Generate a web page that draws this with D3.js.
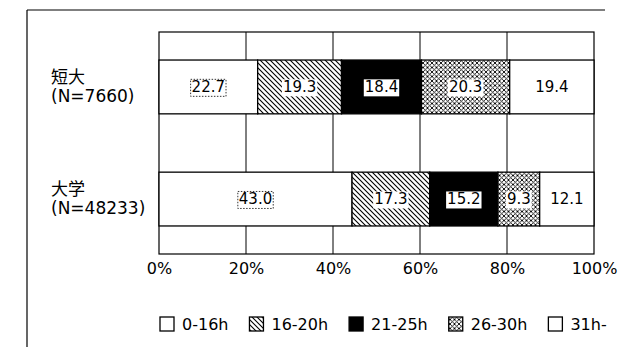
<!DOCTYPE html>
<html>
<head>
<meta charset="utf-8">
<script src="https://cdn.jsdelivr.net/npm/d3@7"></script>
<style>
    body { margin: 0; background: #fff; }
    svg { display: block; font-family: "DejaVu Sans", "Noto Sans CJK JP", sans-serif; }
</style>
</head>
<body>
<div id="chart"></div>
<script>
// Data
const categories = ["短大", "大学"];
const sampleSizes = ["(N=7660)", "(N=48233)"];
const keys = ["0-16h", "16-20h", "21-25h", "26-30h", "31h-"];
const tankiValues = [22.7, 19.3, 18.4, 20.3, 19.4];
const daigakuValues = [43.0, 17.3, 15.2, 9.3, 12.1];
const tickValues = [0, 0.2, 0.4, 0.6, 0.8, 1];

const valueRows = [tankiValues, daigakuValues];
const data = categories.map((c, i) => {
    const row = { category: c, n: sampleSizes[i] };
    keys.forEach((k, j) => row[k] = valueRows[i][j]);
    return row;
});

const width = 618;
const height = 347;
const plot = { left: 159, right: 594, top: 32, bottom: 254 };

const svg = d3.select("#chart")
    .append("svg")
    .attr("width", width)
    .attr("height", height);

// Fill patterns for the hatched segments
const defs = svg.append("defs");
defs.append("pattern")
    .attr("id", "hatch")
    .attr("patternUnits", "userSpaceOnUse")
    .attr("width", 5)
    .attr("height", 5)
    .call(p => {
        p.append("rect").attr("width", 5).attr("height", 5).attr("fill", "#fff");
        p.append("path")
            .attr("d", "M0,0 L5,5 M-1,4 L1,6 M4,-1 L6,1")
            .attr("stroke", "#000")
            .attr("stroke-width", 1.1);
    });
defs.append("pattern")
    .attr("id", "cross")
    .attr("patternUnits", "userSpaceOnUse")
    .attr("width", 4.5)
    .attr("height", 4.5)
    .call(p => {
        p.append("rect").attr("width", 4.5).attr("height", 4.5).attr("fill", "#fff");
        p.append("path")
            .attr("d", "M0,0 L4.5,4.5 M-1,3.5 L1,5.5 M3.5,-1 L5.5,1 M0,4.5 L4.5,0 M-1,1 L1,-1 M3.5,5.5 L5.5,3.5")
            .attr("stroke", "#000")
            .attr("stroke-width", 0.9);
    });

const fills = {
    "0-16h": "#fff",
    "16-20h": "url(#hatch)",
    "21-25h": "#000",
    "26-30h": "url(#cross)",
    "31h-": "#fff"
};

// Page frame from the scan
svg.append("line")
    .attr("x1", 27).attr("x2", 605)
    .attr("y1", 10).attr("y2", 10)
    .attr("stroke", "#000").attr("stroke-width", 1.2);
svg.append("line")
    .attr("x1", 27).attr("x2", 27)
    .attr("y1", 10).attr("y2", height)
    .attr("stroke", "#000").attr("stroke-width", 1.2);

// Scales
const x = d3.scaleLinear()
    .domain([0, 1])
    .range([plot.left, plot.right]);

const y = d3.scaleBand()
    .domain(categories)
    .range([plot.top, plot.bottom])
    .paddingInner(0.52)
    .paddingOuter(0.25);

// Vertical grid lines
svg.append("g")
    .selectAll("line")
    .data(tickValues.slice(1, -1))
    .enter()
    .append("line")
    .attr("x1", d => x(d))
    .attr("x2", d => x(d))
    .attr("y1", plot.top)
    .attr("y2", plot.bottom)
    .attr("stroke", "#000")
    .attr("stroke-width", 1);

// Plot border
svg.append("rect")
    .attr("x", plot.left)
    .attr("y", plot.top)
    .attr("width", plot.right - plot.left)
    .attr("height", plot.bottom - plot.top)
    .attr("fill", "none")
    .attr("stroke", "#000")
    .attr("stroke-width", 1.2);

// Stacked bars, normalised to 100%
const series = d3.stack()
    .keys(keys)
    .offset(d3.stackOffsetExpand)(data);

const layers = svg.append("g")
    .selectAll("g")
    .data(series)
    .enter()
    .append("g")
    .attr("fill", d => fills[d.key]);

layers.selectAll("rect")
    .data(d => d.map(s => Object.assign(s, { key: d.key, index: d.index })))
    .enter()
    .append("rect")
    .attr("x", d => x(d[0]))
    .attr("y", d => y(d.data.category))
    .attr("width", d => x(d[1]) - x(d[0]))
    .attr("height", y.bandwidth())
    .attr("stroke", "#000")
    .attr("stroke-width", 1.3);

// Value labels
const labels = svg.append("g")
    .selectAll("g")
    .data(series.flat())
    .enter()
    .append("g")
    .attr("transform", d => `translate(${(x(d[0]) + x(d[1])) / 2},${y(d.data.category) + y.bandwidth() / 2})`);

labels.append("text")
    .attr("text-anchor", "middle")
    .attr("dy", "0.36em")
    .style("font-size", "15px")
    .text(d => d.data[d.key].toFixed(1));

labels.each(function(d) {
    const g = d3.select(this);
    const bb = g.select("text").node().getBBox();
    if (d.index === 0) {
        g.insert("rect", "text")
            .attr("x", bb.x - 1)
            .attr("y", bb.y + 1)
            .attr("width", bb.width + 2)
            .attr("height", bb.height - 1)
            .attr("fill", "#fff")
            .attr("stroke", "#000")
            .attr("stroke-width", 0.8)
            .attr("stroke-dasharray", "1.5 1.5");
    } else if (d.index < 4) {
        g.insert("rect", "text")
            .attr("x", bb.x - 1)
            .attr("y", bb.y + 1)
            .attr("width", bb.width + 2)
            .attr("height", bb.height - 1)
            .attr("fill", "#fff");
    }
});

// Category labels
const cats = svg.append("g")
    .selectAll("text")
    .data(data)
    .enter()
    .append("text")
    .attr("x", 51)
    .attr("y", d => y(d.category) + y.bandwidth() / 2)
    .style("font-size", "17px");
cats.append("tspan").attr("x", 51).attr("dy", -4).text(d => d.category);
cats.append("tspan").attr("x", 51).attr("dy", 19).text(d => d.n);

// X-axis tick labels
svg.append("g")
    .attr("transform", `translate(0,${plot.bottom})`)
    .call(d3.axisBottom(x).tickValues(tickValues).tickSize(0).tickPadding(9).tickFormat(d3.format(".0%")))
    .call(g => g.select(".domain").remove())
    .selectAll("text")
    .attr("fill", "#000")
    .style("font-family", "DejaVu Sans, sans-serif")
    .style("font-size", "16px");

// Legend
const legend = svg.append("g");
let lx = 160;
keys.forEach(k => {
    legend.append("rect")
        .attr("x", lx)
        .attr("y", 317)
        .attr("width", 14)
        .attr("height", 14)
        .attr("fill", fills[k])
        .attr("stroke", "#000")
        .attr("stroke-width", 1.3);
    const t = legend.append("text")
        .attr("x", lx + 22)
        .attr("y", 330)
        .style("font-size", "16px")
        .text(k);
    lx += 22 + t.node().getComputedTextLength() + 21;
});
</script>
</body>
</html>
